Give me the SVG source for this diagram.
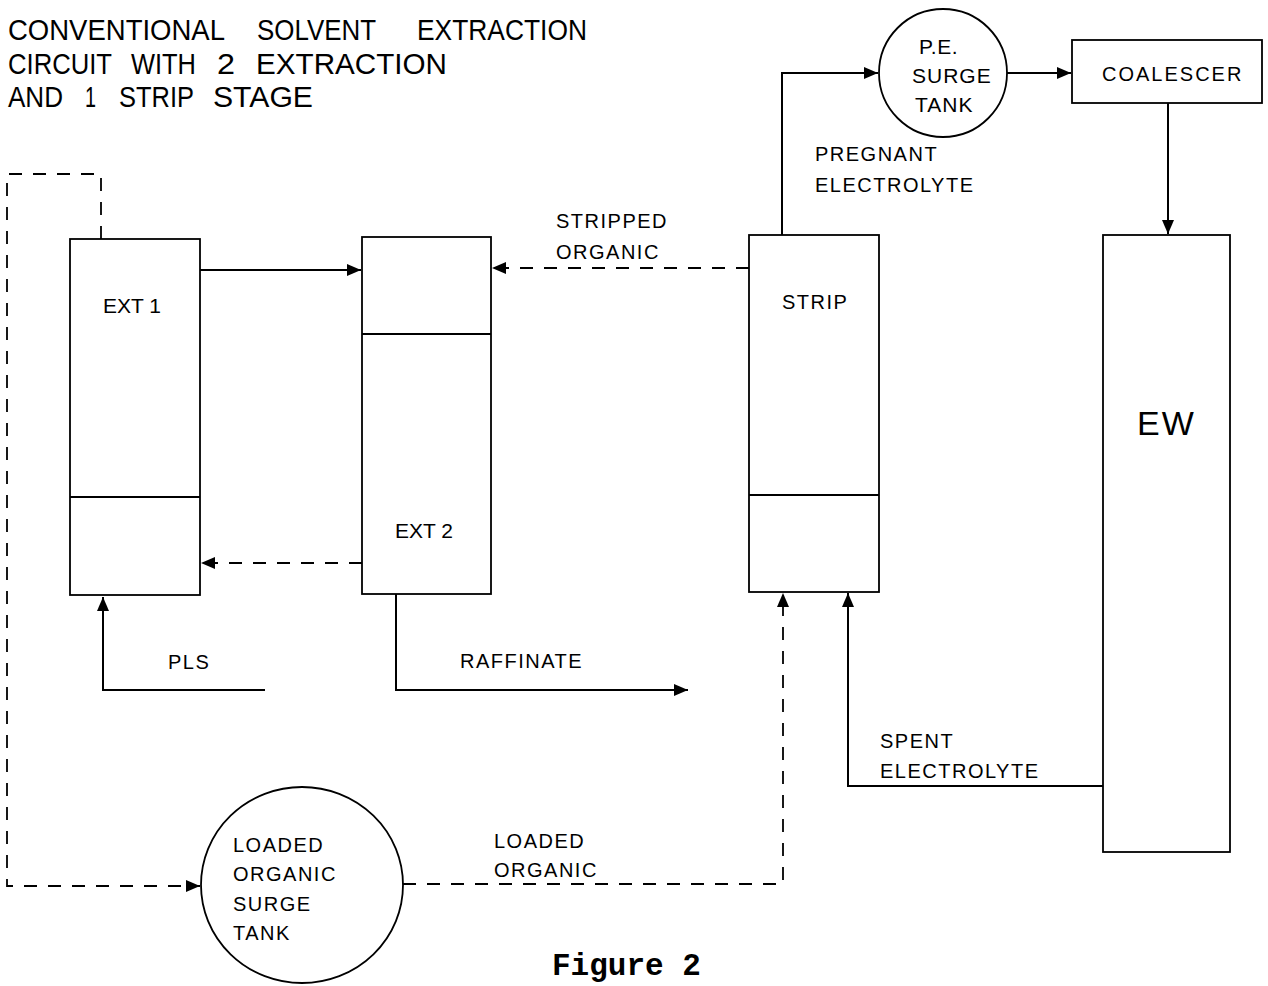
<svg xmlns="http://www.w3.org/2000/svg" width="1268" height="986" viewBox="0 0 1268 986">
<defs>
<style>
.box{fill:#fff;stroke:#000;stroke-width:1.8}
.ln{fill:none;stroke:#000;stroke-width:2}
.dash{fill:none;stroke:#000;stroke-width:1.8;stroke-dasharray:13 11}
.lbl{font-family:"Liberation Sans",Arial,sans-serif;font-size:20px;letter-spacing:1.5px;fill:#000}
.ext{font-family:"Liberation Sans",Arial,sans-serif;font-size:21px;fill:#000}
.title{font-family:"Liberation Sans",Arial,sans-serif;font-size:29px;fill:#000}
.fig{font-family:"Liberation Mono","Courier New",monospace;font-size:31px;font-weight:bold;fill:#000}
</style>
<marker id="arr" markerWidth="15" markerHeight="13" refX="14" refY="6" orient="auto" markerUnits="userSpaceOnUse">
<path d="M0,0 L14,6 L0,12 z" fill="#000"/>
</marker>
<linearGradient id="shade" x1="0" y1="0" x2="1" y2="0">
<stop offset="0" stop-color="#ffffff"/>
<stop offset="0.55" stop-color="#fbfbfb"/>
<stop offset="1" stop-color="#ececec"/>
</linearGradient>
</defs>
<rect width="1268" height="986" fill="#fff"/>

<g id="title">
<text class="title" y="40" x="8" textLength="217" lengthAdjust="spacingAndGlyphs">CONVENTIONAL</text>
<text class="title" y="40" x="257" textLength="119" lengthAdjust="spacingAndGlyphs">SOLVENT</text>
<text class="title" y="40" x="417" textLength="170" lengthAdjust="spacingAndGlyphs">EXTRACTION</text>
<text class="title" y="74" x="8" textLength="104" lengthAdjust="spacingAndGlyphs">CIRCUIT</text>
<text class="title" y="74" x="131" textLength="65" lengthAdjust="spacingAndGlyphs">WITH</text>
<text class="title" y="74" x="217" textLength="18" lengthAdjust="spacingAndGlyphs">2</text>
<text class="title" y="74" x="256" textLength="191" lengthAdjust="spacingAndGlyphs">EXTRACTION</text>
<text class="title" y="107" x="8" textLength="55" lengthAdjust="spacingAndGlyphs">AND</text>
<text class="title" y="107" x="85" textLength="11" lengthAdjust="spacingAndGlyphs">1</text>
<text class="title" y="107" x="119" textLength="75" lengthAdjust="spacingAndGlyphs">STRIP</text>
<text class="title" y="107" x="213" textLength="100" lengthAdjust="spacingAndGlyphs">STAGE</text>
</g>

<g id="ext1">
<rect class="box" x="70" y="239" width="130" height="356"/>
<line class="ln" x1="70" y1="497" x2="200" y2="497" stroke-width="1.6"/>
<text class="ext" x="103" y="313">EXT 1</text>
</g>

<g id="ext2">
<rect class="box" x="362" y="237" width="129" height="357" fill="url(#shade)"/>
<line class="ln" x1="362" y1="334" x2="491" y2="334" stroke-width="1.6"/>
<text class="ext" x="395" y="538">EXT 2</text>
</g>

<g id="strip">
<rect class="box" x="749" y="235" width="130" height="357"/>
<line class="ln" x1="749" y1="495" x2="879" y2="495" stroke-width="1.6"/>
<text class="lbl" x="782" y="309">STRIP</text>
</g>

<g id="ew">
<rect class="box" x="1103" y="235" width="127" height="617"/>
<text class="lbl" x="1137" y="435" style="font-size:34px;letter-spacing:2px">EW</text>
</g>

<g id="coalescer">
<rect class="box" x="1072" y="40" width="190" height="63"/>
<text class="lbl" x="1102" y="81" style="letter-spacing:2px">COALESCER</text>
</g>

<g id="pe-tank">
<circle class="box" cx="943" cy="73" r="64"/>
<text class="lbl" x="919" y="54" style="font-size:21px;letter-spacing:0.5px">P.E.</text>
<text class="lbl" x="912" y="83" style="font-size:21px;letter-spacing:1px">SURGE</text>
<text class="lbl" x="915" y="112" style="font-size:21px;letter-spacing:1px">TANK</text>
</g>

<g id="lo-tank">
<ellipse class="box" cx="302" cy="885" rx="101" ry="98"/>
<text class="lbl" x="233" y="852">LOADED</text>
<text class="lbl" x="233" y="881">ORGANIC</text>
<text class="lbl" x="233" y="911">SURGE</text>
<text class="lbl" x="233" y="940">TANK</text>
</g>

<g id="connectors">
<path class="ln" d="M200,270 H361" marker-end="url(#arr)"/>
<path class="ln" d="M265,690 H103 V597" marker-end="url(#arr)"/>
<path class="ln" d="M396,594 V690 H688" marker-end="url(#arr)"/>
<path class="ln" d="M782,235 V73 H878" marker-end="url(#arr)"/>
<path class="ln" d="M1007,73 H1071" marker-end="url(#arr)"/>
<path class="ln" d="M1168,103 V234" marker-end="url(#arr)"/>
<path class="ln" d="M1103,786 H848 V593" marker-end="url(#arr)"/>
<path class="dash" d="M749,268 H492" marker-end="url(#arr)"/>
<path class="dash" d="M362,563 H201" marker-end="url(#arr)"/>
<path class="dash" d="M101,239 V174 H7 V886 H200" marker-end="url(#arr)"/>
<path class="dash" d="M403,884 H783 V593" marker-end="url(#arr)"/>
</g>

<g id="labels">
<text class="lbl" x="815" y="161">PREGNANT</text>
<text class="lbl" x="815" y="192">ELECTROLYTE</text>
<text class="lbl" x="556" y="228">STRIPPED</text>
<text class="lbl" x="556" y="259">ORGANIC</text>
<text class="lbl" x="168" y="669">PLS</text>
<text class="lbl" x="460" y="668">RAFFINATE</text>
<text class="lbl" x="880" y="748">SPENT</text>
<text class="lbl" x="880" y="778">ELECTROLYTE</text>
<text class="lbl" x="494" y="848">LOADED</text>
<text class="lbl" x="494" y="877">ORGANIC</text>
<text class="fig" x="552" y="975">Figure 2</text>
</g>
</svg>
